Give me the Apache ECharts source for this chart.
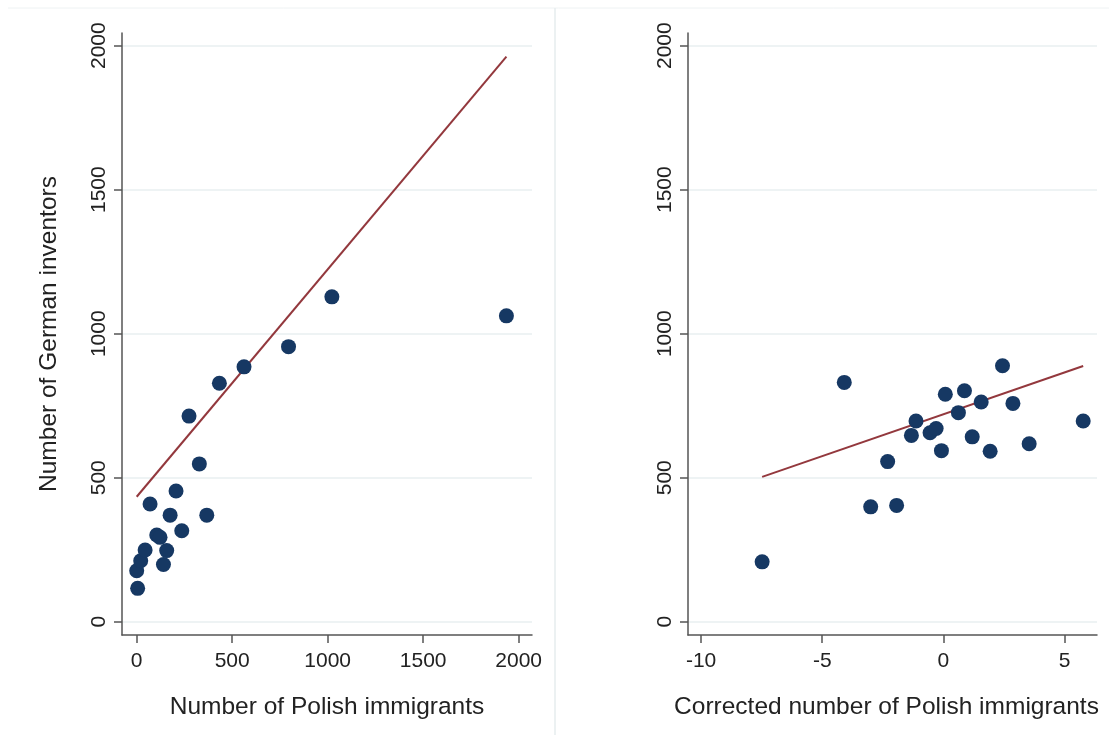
<!DOCTYPE html>
<html>
<head>
<meta charset="utf-8">
<script src="https://cdn.jsdelivr.net/npm/echarts@6/dist/echarts.min.js"></script>
<style>html,body{margin:0;padding:0;background:#fff}#c{width:1109px;height:735px}</style>
</head>
<body>
<div id="c"></div>
<script>
// Left panel: raw counts
const leftX = [0, 5, 21, 44, 70, 105, 122, 140, 157, 175, 206, 236, 274, 328, 367, 433, 562, 795, 1022, 1936];
const leftY = [177, 116, 212, 249, 409, 301, 293, 199, 247, 370, 454, 316, 714, 548, 370, 828, 885, 955, 1128, 1062];
const leftFitX = [0, 1936];
const leftFitY = [434, 1962];
// Right panel: corrected counts
const rightX = [-7.48, -4.09, -3.00, -1.93, -2.30, -1.32, -1.13, -0.55, -0.30, -0.08, 0.08, 0.62, 0.87, 1.19, 1.56, 1.93, 2.44, 2.87, 3.54, 5.77];
const rightY = [208, 831, 399, 404, 556, 647, 697, 656, 671, 594, 790, 726, 802, 642, 763, 592, 889, 758, 618, 697];
const rightFitX = [-7.48, 5.77];
const rightFitY = [503, 888];
// Tick labels
const yTicks = [0, 500, 1000, 1500, 2000];
const leftXTicks = [0, 500, 1000, 1500, 2000];
const rightXTicks = [-10, -5, 0, 5];
// Titles
const yTitle = 'Number of German inventors';
const leftXTitle = 'Number of Polish immigrants';
const rightXTitle = 'Corrected number of Polish immigrants';

const FONT = '"Liberation Sans", Arial, sans-serif';
const AX = '#555';
const DOT = '#163863';
const FIT = '#93383d';
const GRIDC = '#e9eff1';

function zip(a, b) { return a.map((v, i) => [v, b[i]]); }
const plain = v => String(v);

function xAxis(idx, min, max, ticks, name, pad) {
  return {
    type: 'value', gridIndex: idx, min: min, max: max,
    name: name, nameLocation: 'middle', nameGap: 60,
    nameTextStyle: { fontFamily: FONT, fontSize: 24.5, color: '#222', padding: pad },
    axisLine: { onZero: false, lineStyle: { color: AX, width: 1.5 } },
    axisTick: { show: true, length: 8, customValues: ticks, lineStyle: { color: AX, width: 1.5 } },
    axisLabel: { customValues: ticks, formatter: plain, margin: 16, fontFamily: FONT, fontSize: 21, color: '#222' },
    splitLine: { show: false }
  };
}
function yAxis(idx, name) {
  return {
    type: 'value', gridIndex: idx, min: -46, max: 2044,
    name: name, nameLocation: 'middle', nameGap: 60, nameRotate: 90,
    nameTextStyle: { fontFamily: FONT, fontSize: 24.5, color: '#222' },
    axisLine: { show: true, onZero: false, lineStyle: { color: AX, width: 1.5 } },
    axisTick: { show: true, length: 8, customValues: yTicks, lineStyle: { color: AX, width: 1.5 } },
    axisLabel: { customValues: yTicks, formatter: plain, rotate: 90, margin: 12, fontFamily: FONT, fontSize: 21, color: '#222' },
    splitLine: { show: true, lineStyle: { color: GRIDC, width: 1.5 } }
  };
}

const chart = echarts.init(document.getElementById('c'), null, { renderer: 'canvas' });
chart.setOption({
  backgroundColor: '#fff',
  animation: false,
  graphic: [
    { type: 'line', shape: { x1: 8, y1: 8, x2: 1109, y2: 8 }, style: { stroke: '#eef2f3', lineWidth: 1 } },
    { type: 'line', shape: { x1: 555, y1: 8, x2: 555, y2: 735 }, style: { stroke: '#e6ecee', lineWidth: 1.5 } }
  ],
  grid: [
    { left: 122, top: 33, width: 410, height: 602, outerBoundsMode: 'none', containLabel: false },
    { left: 688, top: 33, width: 409, height: 602, outerBoundsMode: 'none', containLabel: false }
  ],
  xAxis: [
    xAxis(0, -77, 2070, leftXTicks, leftXTitle, [0, 0, 0, 0]),
    xAxis(1, -10.54, 6.34, rightXTicks, rightXTitle, [0, 12, 0, 0])
  ],
  yAxis: [yAxis(0, yTitle), yAxis(1, '')],
  series: [
    { type: 'line', xAxisIndex: 0, yAxisIndex: 0, data: zip(leftFitX, leftFitY), symbol: 'none',
      lineStyle: { color: FIT, width: 2 }, z: 2 },
    { type: 'scatter', xAxisIndex: 0, yAxisIndex: 0, data: zip(leftX, leftY), symbolSize: 15,
      itemStyle: { color: DOT, opacity: 1 }, z: 3 },
    { type: 'line', xAxisIndex: 1, yAxisIndex: 1, data: zip(rightFitX, rightFitY), symbol: 'none',
      lineStyle: { color: FIT, width: 2 }, z: 2 },
    { type: 'scatter', xAxisIndex: 1, yAxisIndex: 1, data: zip(rightX, rightY), symbolSize: 15,
      itemStyle: { color: DOT, opacity: 1 }, z: 3 }
  ]
});
</script>
</body>
</html>
